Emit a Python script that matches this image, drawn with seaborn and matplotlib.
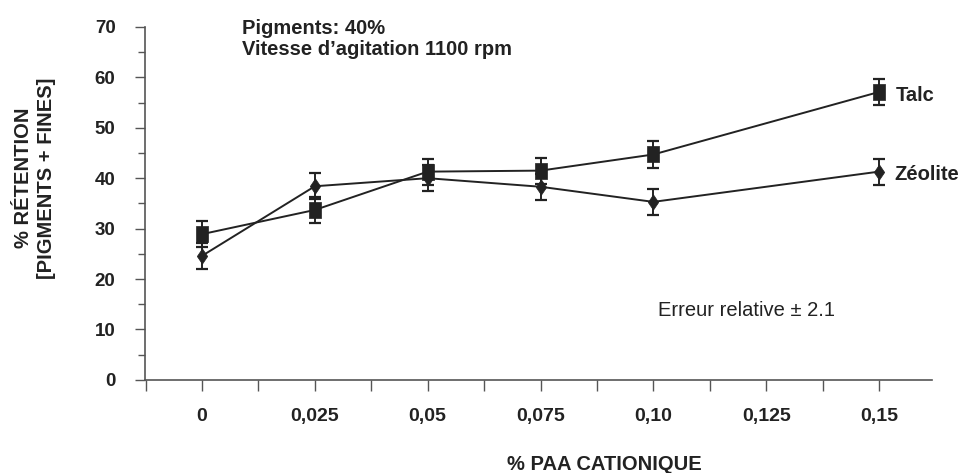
import numpy as np
import pandas as pd
import seaborn as sns
import matplotlib.pyplot as plt
from matplotlib.ticker import MultipleLocator, FixedLocator

# donnees
paa = [0, 0.025, 0.05, 0.075, 0.10, 0.15]
talc = [28.9, 33.7, 41.3, 41.5, 44.7, 57.1]
zeolite = [24.6, 38.4, 40.0, 38.3, 35.3, 41.3]
erreur = [2.6, 2.6, 2.6, 2.6, 2.6, 2.6]
xticks = [0, 0.025, 0.05, 0.075, 0.10, 0.125, 0.15]
xlabels = ['0', '0,025', '0,05', '0,075', '0,10', '0,125', '0,15']

df = pd.DataFrame({
    'paa': paa * 2,
    'retention': talc + zeolite,
    'pigment': ['Talc'] * len(paa) + ['Zéolite'] * len(paa),
})

sns.set_style('ticks')
plt.rcParams['font.family'] = ['Liberation Sans', 'DejaVu Sans']

fig = plt.figure(figsize=(9.65, 4.73), dpi=100)
ax = fig.add_axes([0.150, 0.197, 0.816, 0.746])

# barres d'erreur
for vals in (talc, zeolite):
    ax.errorbar(paa, vals, yerr=erreur, fmt='none', ecolor='#222222',
                elinewidth=1.4, capsize=4, capthick=1.6, zorder=2)

# marqueurs un peu etires en hauteur comme sur l'original
carre = [(-0.37, -0.5), (0.37, -0.5), (0.37, 0.5), (-0.37, 0.5), (-0.37, -0.5)]
losange = [(0, -0.5), (0.34, 0), (0, 0.5), (-0.34, 0), (0, -0.5)]

sns.lineplot(data=df, x='paa', y='retention', hue='pigment', style='pigment',
             markers={'Talc': carre, 'Zéolite': losange}, dashes=False,
             palette={'Talc': '#222222', 'Zéolite': '#222222'},
             markersize=11, linewidth=1.4, markeredgecolor='#222222',
             markeredgewidth=0.5, legend=False, ax=ax, zorder=3)

ax.set_xlim(-0.0127, 0.1618)
ax.set_ylim(0, 70)
ax.set_xlabel('')
ax.set_ylabel('')

sns.despine(ax=ax)
for s in ('left', 'bottom'):
    ax.spines[s].set_color('#555555')
    ax.spines[s].set_linewidth(1.2)

ax.xaxis.set_major_locator(FixedLocator(xticks))
ax.set_xticklabels(xlabels, fontsize=14, fontweight='bold', color='#222222')
ax.xaxis.set_minor_locator(FixedLocator([-0.0125 + 0.025 * i for i in range(7)]))
ax.tick_params(axis='x', which='both', length=8, width=1, color='#555555', pad=12)

ax.yaxis.set_major_locator(MultipleLocator(10))
ax.yaxis.set_minor_locator(MultipleLocator(5))
ax.tick_params(axis='y', which='major', length=7, width=1, color='#555555', pad=14,
               labelsize=13.5, labelcolor='#222222')
ax.tick_params(axis='y', which='minor', length=5, width=1, color='#555555')
for t in ax.get_yticklabels():
    t.set_fontweight('bold')

# textes
fig.text(242 / 965, 1 - 39 / 473, 'Pigments: 40%\nVitesse d\u2019agitation 1100 rpm',
         fontsize=14.5, fontweight='bold', va='center', ha='left', linespacing=1.1,
         color='#222222')
fig.text(658 / 965, 1 - 310 / 473, 'Erreur relative \u00b1 2.1', fontsize=14.5,
         va='center', ha='left', color='#222222')
fig.text(896 / 965, 1 - 95 / 473, 'Talc', fontsize=14.5, fontweight='bold',
         va='center', ha='left', color='#222222')
fig.text(894 / 965, 1 - 175 / 473, 'Zéolite', fontsize=14.5, fontweight='bold',
         va='center', ha='left', color='#222222')
fig.text(35 / 965, 1 - 178 / 473, '% RÉTENTION\n[PIGMENTS + FINES]', rotation=90,
         fontsize=14.5, fontweight='bold', va='center', ha='center', linespacing=1.25,
         color='#222222')
fig.text(604 / 965, 1 - 464 / 473, '% PAA CATIONIQUE', fontsize=14.5,
         fontweight='bold', va='center', ha='center', color='#222222')

fig.savefig('out.png', dpi=100)
